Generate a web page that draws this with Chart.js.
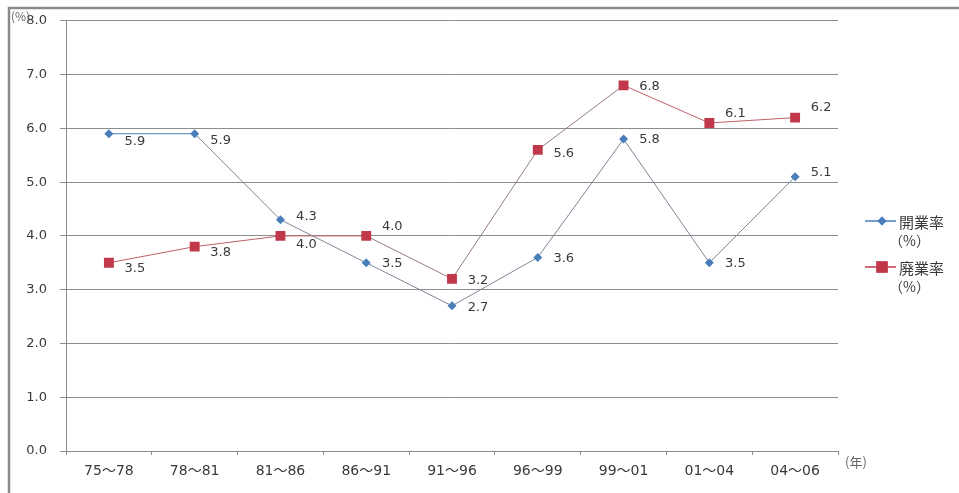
<!DOCTYPE html>
<html lang="ja">
<head>
<meta charset="utf-8">
<title>開業率・廃業率の推移</title>
<script src="https://cdn.jsdelivr.net/npm/chart.js@4/dist/chart.umd.min.js"></script>
<style>
  html, body { margin: 0; padding: 0; background: #fff; }
  canvas { display: block; }
</style>
</head>
<body>
<canvas id="c" width="959" height="493"></canvas>
<script>
// Periods (年) and rates (%)
const periods = ['75〜78', '78〜81', '81〜86', '86〜91', '91〜96', '96〜99', '99〜01', '01〜04', '04〜06'];
const openingRate = [5.9, 5.9, 4.3, 3.5, 2.7, 3.6, 5.8, 3.5, 5.1];
const closingRate = [3.5, 3.8, 4.0, 4.0, 3.2, 5.6, 6.8, 6.1, 6.2];
const yTicks = [0, 1, 2, 3, 4, 5, 6, 7, 8];
const seriesNames = ['開業率', '廃業率'];

const NUM_FONT = '"DejaVu Sans", "Noto Sans CJK JP", sans-serif';
const JP_FONT = '"Noto Sans CJK JP", "Noto Sans", sans-serif';
const TEXT = '#3a3a3a';
const BLUE = '#4a7ebb';
const RED = '#c0384a';

// vertical nudge of each value label (px), label sits to the right of its point
const openLabelDy = [8, 7, -3, 1, 2, 1, 1, 1, -4];
const closeLabelDy = [6, 6, 9, -9, 2, 4, 1, -9, -10];

const extras = {
  id: 'extras',
  beforeDraw(chart) {
    const ctx = chart.ctx;
    ctx.save();
    ctx.fillStyle = '#fff';
    ctx.fillRect(0, 0, chart.width, chart.height);
    // outer frame
    ctx.strokeStyle = '#8a8a8a';
    ctx.lineWidth = 2.5;
    ctx.strokeRect(9, 8, chart.width + 10, chart.height + 10);
    ctx.restore();
  },
  afterDatasetsDraw(chart) {
    const ctx = chart.ctx;
    ctx.save();
    ctx.font = '13px ' + NUM_FONT;
    ctx.fillStyle = TEXT;
    ctx.textAlign = 'center';
    ctx.textBaseline = 'middle';
    const offsets = [openLabelDy, closeLabelDy];
    chart.data.datasets.forEach((ds, di) => {
      const meta = chart.getDatasetMeta(di);
      meta.data.forEach((pt, i) => {
        ctx.fillText(ds.data[i].toFixed(1), pt.x + 26, pt.y + offsets[di][i]);
      });
    });

    // axis units
    ctx.font = '12px ' + JP_FONT;
    ctx.fillStyle = '#666';
    ctx.textAlign = 'left';
    ctx.fillText('(%)', 11, 16);
    ctx.font = '13px ' + JP_FONT;
    ctx.fillText('(年)', 845, 462);

    // legend
    const items = [
      { y: 221, color: BLUE, style: 'rectRot', r: 4.5, name: seriesNames[0] },
      { y: 267, color: RED, style: 'rect', r: 8, name: seriesNames[1] }
    ];
    items.forEach(it => {
      ctx.strokeStyle = it.color;
      ctx.lineWidth = 1.5;
      ctx.beginPath();
      ctx.moveTo(865, it.y);
      ctx.lineTo(896, it.y);
      ctx.stroke();
      ctx.fillStyle = it.color;
      Chart.helpers.drawPoint(ctx, { pointStyle: it.style, radius: it.r, borderWidth: 0 }, 882, it.y);
      ctx.fill();
      ctx.fillStyle = TEXT;
      ctx.font = '15px ' + JP_FONT;
      ctx.fillText(it.name, 899, it.y + 1);
      ctx.font = '14px ' + JP_FONT;
      ctx.fillText('（%）', 889, it.y + 20);
    });
    ctx.restore();
  }
};

new Chart(document.getElementById('c'), {
  type: 'line',
  data: {
    labels: periods,
    datasets: [
      {
        label: seriesNames[0],
        data: openingRate,
        borderColor: '#7d8fa6',
        borderWidth: 1,
        backgroundColor: BLUE,
        pointStyle: 'rectRot',
        pointRadius: 4.5,
        pointBorderWidth: 0,
        pointBackgroundColor: BLUE,
        segment: { borderColor: c => (c.p0DataIndex === 0 ? BLUE : '#7d8796') },
        tension: 0
      },
      {
        label: seriesNames[1],
        data: closingRate,
        borderColor: '#c0606a',
        borderWidth: 1,
        backgroundColor: RED,
        pointStyle: 'rect',
        pointRadius: 7,
        pointBorderWidth: 0,
        pointBackgroundColor: RED,
        segment: { borderColor: c => ([3, 4, 5].includes(c.p0DataIndex) ? '#9a7d80' : '#c0606a') },
        tension: 0
      }
    ]
  },
  options: {
    responsive: false,
    animation: false,
    layout: { padding: { left: 0, right: 121, top: 20, bottom: 0 } },
    plugins: {
      legend: { display: false },
      tooltip: { enabled: false }
    },
    scales: {
      x: {
        offset: true,
        grid: {
          offset: true,
          drawOnChartArea: false,
          drawTicks: true,
          tickLength: 4,
          color: '#8c8c8c'
        },
        border: { color: '#8c8c8c', width: 1 },
        ticks: {
          color: TEXT,
          font: { family: NUM_FONT, size: 14 },
          padding: 8,
          maxRotation: 0,
          autoSkip: false
        },
        afterFit(scale) { scale.height = 42; }
      },
      y: {
        min: 0,
        max: 8,
        afterBuildTicks(scale) { scale.ticks = yTicks.map(v => ({ value: v })); },
        grid: {
          color: '#8c8c8c',
          lineWidth: 1,
          drawTicks: true,
          tickLength: 6
        },
        border: { color: '#8c8c8c', width: 1 },
        ticks: {
          color: TEXT,
          font: { family: NUM_FONT, size: 13 },
          padding: 13,
          callback: v => Number(v).toFixed(1)
        },
        afterFit(scale) { scale.width = 66; }
      }
    }
  },
  plugins: [extras]
});
</script>
</body>
</html>
